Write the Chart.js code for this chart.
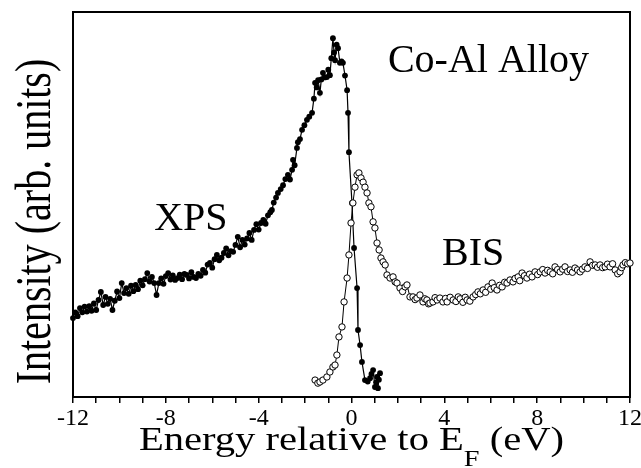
<!DOCTYPE html>
<html>
<head>
<meta charset="utf-8">
<script src="https://cdn.jsdelivr.net/npm/chart.js@4"></script>
<style>
  body { margin: 0; background: #fff; }
  #wrap { width: 641px; height: 468px; }
</style>
</head>
<body>
<div id="wrap"><canvas id="chart" width="641" height="468"></canvas></div>
<script>
// XPS spectrum (filled circles), energy in eV relative to E_F
const xpsEnergy = [
  -12.00, -11.90, -11.80, -11.70, -11.60, -11.50, -11.40, -11.30, -11.20, -11.10,
  -11.00, -10.90, -10.80, -10.70, -10.60, -10.50, -10.40, -10.30, -10.20, -10.10,
  -10.00, -9.90, -9.80, -9.70, -9.60, -9.50, -9.40, -9.30, -9.20, -9.10,
  -9.00, -8.90, -8.80, -8.70, -8.60, -8.50, -8.40, -8.30, -8.20, -8.10,
  -8.00, -7.90, -7.80, -7.70, -7.60, -7.50, -7.40, -7.30, -7.20, -7.10,
  -7.00, -6.90, -6.80, -6.70, -6.60, -6.50, -6.40, -6.30, -6.20, -6.10,
  -6.00, -5.90, -5.80, -5.70, -5.60, -5.50, -5.40, -5.30, -5.20, -5.10,
  -5.00, -4.90, -4.80, -4.70, -4.60, -4.50, -4.40, -4.30, -4.20, -4.10,
  -4.00, -3.90, -3.80, -3.70, -3.60, -3.50, -3.43, -3.35, -3.25, -3.17,
  -3.05, -2.95, -2.85, -2.74, -2.65, -2.56, -2.52, -2.45, -2.35, -2.31,
  -2.22, -2.13, -2.03, -1.92, -1.82, -1.70, -1.62, -1.57, -1.50, -1.44,
  -1.36, -1.30, -1.23, -1.15, -1.06, -1.00, -0.93, -0.87, -0.80, -0.75,
  -0.71, -0.64, -0.58, -0.50, -0.43, -0.37, -0.28, -0.19, -0.15, -0.11,
  0.02, 0.11, 0.24, 0.28, 0.37, 0.45, 0.58, 0.70, 0.80, 0.86,
  0.93, 1.01, 1.06, 1.10, 1.14, 1.18, 1.23
];
const xpsIntensity = [
  20.5, 22.0, 21.0, 23.1, 22.0, 23.5, 22.2, 23.6, 22.4, 24.3,
  22.6, 25.2, 27.3, 23.9, 26.0, 24.2, 25.5, 22.6, 25.0, 27.4,
  25.7, 29.6, 27.0, 28.3, 26.8, 28.9, 27.5, 29.1, 28.0, 30.2,
  29.0, 30.6, 32.2, 30.0, 31.2, 29.6, 26.5, 29.6, 30.8, 29.4,
  31.4, 32.2, 30.5, 31.6, 30.4, 30.9, 31.8, 30.6, 32.0, 31.7,
  30.8, 32.4, 31.2, 30.9, 32.0, 31.5, 33.0, 32.3, 34.4, 34.8,
  33.6, 35.8, 36.9, 35.5, 36.2, 37.4, 38.6, 36.8, 37.9, 37.7,
  39.5, 41.6, 38.9, 40.8, 39.6, 41.2, 42.6, 40.8, 43.4, 44.9,
  43.5, 45.2, 46.0, 45.0, 47.2, 48.0, 48.6, 50.5, 51.8, 53.0,
  54.0, 55.0, 56.6, 57.7, 56.5, 59.0, 61.6, 60.2, 64.7, 66.2,
  67.0, 69.4, 70.6, 72.0, 72.8, 73.8, 77.5, 81.6, 80.4, 82.3,
  79.0, 82.5, 84.2, 83.0, 83.1, 85.0, 83.6, 88.0, 93.2, 89.5,
  87.5, 91.5, 90.6, 86.8, 87.2, 86.8, 83.5, 79.7, 73.8, 63.6,
  50.4, 38.7, 28.3, 17.4, 13.5, 9.1, 4.4, 4.0, 4.9, 6.0,
  7.0, 2.6, 3.8, 5.2, 2.3, 4.5, 6.2
];

// BIS spectrum (open circles)
const bisEnergy = [
  -1.57, -1.45, -1.36, -1.23, -1.06, -0.93, -0.80, -0.71, -0.63, -0.54,
  -0.41, -0.32, -0.19, -0.11, -0.02, 0.06, 0.15, 0.24, 0.32, 0.41,
  0.50, 0.58, 0.67, 0.75, 0.84, 0.93, 1.01, 1.10, 1.19, 1.27,
  1.36, 1.45, 1.53, 1.66, 1.79, 1.88, 1.96, 2.09, 2.20, 2.31,
  2.39, 2.52, 2.65, 2.74, 2.82, 2.95, 3.08, 3.16, 3.25, 3.32,
  3.38, 3.51, 3.60, 3.69, 3.81, 3.94, 4.05, 4.12, 4.25, 4.38,
  4.50, 4.60, 4.68, 4.80, 4.90, 4.98, 5.10, 5.24, 5.35, 5.45,
  5.55, 5.67, 5.78, 5.88, 6.00, 6.06, 6.15, 6.27, 6.38, 6.49,
  6.60, 6.70, 6.83, 6.96, 7.05, 7.18, 7.25, 7.35, 7.45, 7.56,
  7.67, 7.78, 7.91, 8.02, 8.13, 8.24, 8.34, 8.45, 8.56, 8.67,
  8.77, 8.88, 8.99, 9.10, 9.20, 9.31, 9.42, 9.52, 9.63, 9.74,
  9.85, 9.95, 10.06, 10.17, 10.28, 10.39, 10.50, 10.60, 10.71, 10.82,
  10.93, 11.03, 11.14, 11.25, 11.36, 11.47, 11.57, 11.64, 11.70, 11.80,
  11.90, 12.00
];
const bisIntensity = [
  4.4, 3.6, 3.9, 4.4, 5.2, 6.5, 7.8, 8.3, 10.9, 15.6,
  18.2, 24.7, 30.9, 36.9, 45.2, 50.4, 54.5, 57.7, 58.2, 56.9,
  55.8, 54.5, 53.0, 50.4, 49.4, 45.5, 43.9, 40.0, 38.2, 36.1,
  35.1, 34.3, 31.7, 30.9, 31.2, 29.9, 29.6, 28.3, 27.4, 28.6,
  29.1, 26.0, 26.0, 25.3, 25.7, 26.5, 24.7, 25.5, 25.2, 24.2,
  24.4, 24.7, 25.8, 25.2, 25.7, 24.7, 25.6, 24.7, 25.9, 25.2,
  24.8, 26.0, 25.5, 24.6, 25.9, 25.2, 24.9, 26.0, 26.6, 27.3,
  26.8, 27.8, 27.2, 28.6, 28.0, 29.6, 28.4, 27.8, 29.0, 28.6,
  29.8, 29.6, 30.4, 29.9, 30.8, 31.2, 30.2, 32.2, 31.5, 30.9,
  31.9, 31.2, 32.5, 31.8, 32.5, 33.1, 32.2, 32.9, 32.5, 32.0,
  33.8, 33.1, 32.5, 33.2, 33.8, 32.6, 33.0, 32.4, 33.5, 33.0,
  32.5, 33.2, 33.8, 33.4, 35.1, 34.2, 34.3, 33.7, 34.3, 33.6,
  33.8, 34.5, 33.8, 34.6, 33.0, 32.0, 32.5, 33.6, 34.3, 34.9,
  34.6, 34.8
];

const xMajorTicks = [-12, -8, -4, 0, 4, 8, 12];

// text labels placed in data coordinates (energy, intensity)
const annotations = [
  { text: 'Co-Al Alloy', x: 1.57, y: 84.4 },
  { text: 'XPS', x: -8.5, y: 43.4 },
  { text: 'BIS', x: 3.9, y: 34.3 }
];

const SERIF = '"Liberation Serif", "Times New Roman", serif';

function toPoints(xs, ys) {
  return xs.map((x, i) => ({ x: x, y: ys[i] }));
}

// draws text stretched horizontally, returns drawn width
function stretchedText(ctx, text, x, y, sx) {
  ctx.save();
  ctx.translate(x, y);
  ctx.scale(sx, 1);
  ctx.fillText(text, 0, 0);
  ctx.restore();
  return ctx.measureText(text).width * sx;
}

const framePlugin = {
  id: 'frame',
  beforeDatasetsDraw(chart) {
    const { ctx, chartArea } = chart;
    ctx.save();
    ctx.strokeStyle = '#000';
    ctx.lineWidth = 2;
    ctx.strokeRect(chartArea.left, chartArea.top,
      chartArea.right - chartArea.left, chartArea.bottom - chartArea.top);
    ctx.restore();
  },
  afterDraw(chart) {
    const { ctx, chartArea, scales } = chart;
    ctx.save();
    ctx.fillStyle = '#000';
    ctx.textBaseline = 'alphabetic';

    // annotations inside the plot
    ctx.font = '40px ' + SERIF;
    ctx.textAlign = 'left';
    annotations.forEach(a => {
      ctx.fillText(a.text, scales.x.getPixelForValue(a.x), scales.y.getPixelForValue(a.y));
    });

    // y axis title
    ctx.save();
    ctx.translate(chartArea.left - 23, (chartArea.top + chartArea.bottom) / 2 + 17);
    ctx.scale(1.25, 1);
    ctx.rotate(-Math.PI / 2);
    ctx.textAlign = 'center';
    ctx.font = '40px ' + SERIF;
    ctx.fillText('Intensity (arb. units)', 0, 0);
    ctx.restore();

    // x axis title with subscript F
    const sx = 1.23;
    const mainFont = '33px ' + SERIF;
    const subFont = '23px ' + SERIF;
    ctx.textAlign = 'left';
    ctx.font = mainFont;
    const w1 = ctx.measureText('Energy relative to E').width * sx;
    const w3 = ctx.measureText(' (eV)').width * sx;
    ctx.font = subFont;
    const w2 = ctx.measureText('F').width * sx;
    const total = w1 + w2 + w3;
    let x = (chartArea.left + chartArea.right) / 2 - total / 2;
    const base = chartArea.bottom + 53;
    ctx.font = mainFont;
    x += stretchedText(ctx, 'Energy relative to E', x, base, sx);
    ctx.font = subFont;
    x += stretchedText(ctx, 'F', x, base + 16, sx);
    ctx.font = mainFont;
    stretchedText(ctx, ' (eV)', x, base, sx);
    ctx.restore();
  }
};

const ctx = document.getElementById('chart').getContext('2d');
const chart = new Chart(ctx, {
  type: 'line',
  data: {
    datasets: [
      {
        label: 'BIS',
        data: toPoints(bisEnergy, bisIntensity),
        borderColor: '#000',
        borderWidth: 1,
        pointRadius: 3.2,
        pointBackgroundColor: '#fff',
        pointBorderColor: '#000',
        pointBorderWidth: 1,
        tension: 0,
        clip: false,
        order: 1
      },
      {
        label: 'XPS',
        data: toPoints(xpsEnergy, xpsIntensity),
        borderColor: '#000',
        borderWidth: 1.2,
        pointRadius: 2.9,
        pointBackgroundColor: '#000',
        pointBorderColor: '#000',
        pointBorderWidth: 0,
        tension: 0,
        clip: false,
        order: 2
      }
    ]
  },
  options: {
    responsive: false,
    animation: false,
    events: [],
    layout: { padding: { left: 73, right: 11, top: 12, bottom: 0 } },
    plugins: {
      legend: { display: false },
      tooltip: { enabled: false }
    },
    scales: {
      x: {
        type: 'linear',
        min: -12,
        max: 12,
        grid: {
          display: true,
          drawOnChartArea: false,
          drawTicks: true,
          tickLength: 6,
          color: '#000',
          lineWidth: 1.5
        },
        border: { display: false },
        ticks: {
          stepSize: 1,
          autoSkip: false,
          maxRotation: 0,
          padding: 1,
          color: '#000',
          font: { family: SERIF, size: 24 },
          callback: v => xMajorTicks.includes(v) ? String(v) : ''
        },
        afterFit: s => {
          s.height = 71;
          s.paddingLeft = 0;
          s.paddingRight = 0;
        }
      },
      y: {
        display: false,
        min: 0,
        max: 100
      }
    }
  },
  plugins: [framePlugin]
});
</script>
</body>
</html>
